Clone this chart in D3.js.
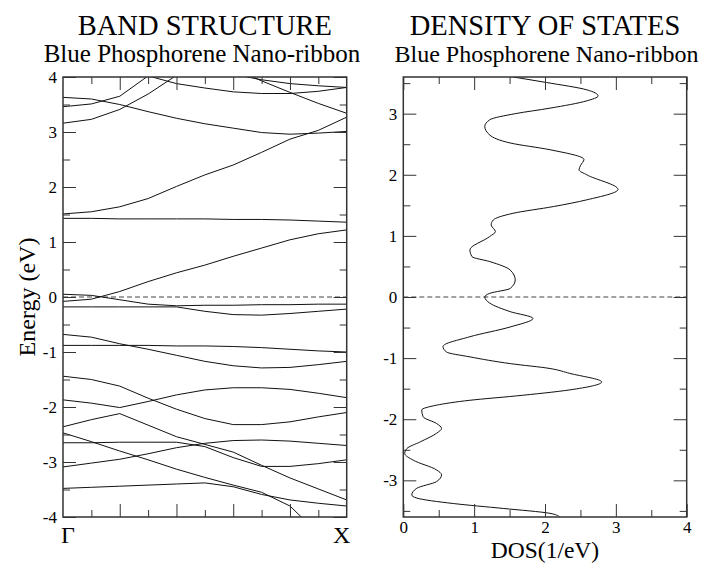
<!DOCTYPE html>
<html>
<head>
<meta charset="utf-8">
<script src="https://cdn.jsdelivr.net/npm/d3@7"></script>
<style>
    body { margin: 0; background: #fff; }
</style>
</head>
<body>
<script>

    // k-path points from Gamma (0) to X (1)
    const kPoints = [0, 0.1, 0.2, 0.3, 0.4, 0.5, 0.6, 0.7, 0.8, 0.9, 1.0];

    // band energies (eV) at each k point, null = off the chart
    const band01 = [1.43, 1.43, 1.42, 1.42, 1.42, 1.42, 1.41, 1.41, 1.40, 1.38, 1.36];
    const band02 = [1.51, 1.55, 1.64, 1.79, 2.01, 2.22, 2.40, 2.63, 2.87, 3.03, 3.27];
    const band03 = [3.63, 3.60, 3.50, 3.37, 3.25, 3.15, 3.07, 2.99, 2.96, 2.98, 3.01];
    const band04 = [3.16, 3.23, 3.41, 3.69, 4.03, null, 4.15, 3.93, 3.72, 3.52, 3.34];
    const band05 = [3.46, 3.51, 3.65, 4.02, 3.88, 3.80, 3.73, 3.70, 3.70, 3.74, 3.81];
    const band06 = [null, null, null, null, null, null, 4.05, 3.95, 3.88, 3.84, 3.81];
    const band07 = [-0.08, -0.04, 0.10, 0.28, 0.44, 0.58, 0.74, 0.89, 1.04, 1.15, 1.22];
    const band08 = [0.05, 0.03, -0.05, -0.13, -0.16, -0.15, -0.15, -0.14, -0.14, -0.13, -0.13];
    const band09 = [-0.18, -0.18, -0.18, -0.18, -0.18, -0.26, -0.32, -0.33, -0.30, -0.26, -0.22];
    const band10 = [-0.68, -0.73, -0.85, -0.95, -1.06, -1.17, -1.25, -1.29, -1.28, -1.23, -1.17];
    const band11 = [-0.88, -0.88, -0.88, -0.88, -0.89, -0.89, -0.90, -0.92, -0.95, -0.98, -1.00];
    const band12 = [-1.44, -1.50, -1.62, -1.84, -2.04, -2.21, -2.32, -2.32, -2.27, -2.18, -2.10];
    const band13 = [-1.87, -1.93, -2.01, -1.90, -1.78, -1.69, -1.65, -1.65, -1.68, -1.75, -1.83];
    const band14 = [-2.36, -2.23, -2.12, -2.33, -2.54, -2.68, -2.82, -3.06, -3.29, -3.49, -3.69];
    const band15 = [-3.09, -3.02, -2.95, -2.85, -2.74, -2.66, -2.61, -2.60, -2.62, -2.66, -2.70];
    const band16 = [-2.65, -2.65, -2.64, -2.64, -2.64, -2.72, -2.92, -3.08, -3.08, -3.03, -2.96];
    const band17 = [-2.47, -2.63, -2.80, -2.96, -3.13, -3.28, -3.42, -3.55, -3.80, -4.30, null];
    const band18 = [-3.48, -3.46, -3.44, -3.42, -3.40, -3.38, -3.45, -3.59, -3.69, -3.75, -3.80];

    const bands = [band01, band02, band03, band04, band05, band06, band07, band08, band09,
        band10, band11, band12, band13, band14, band15, band16, band17, band18];

    // density of states: energy (eV) and DOS (1/eV)
    const dosEnergy = [3.60, 3.51, 3.39, 3.29, 3.21, 3.09, 3.00, 2.90, 2.79, 2.65, 2.52, 2.41,
        2.25, 2.15, 2.08, 2.00, 1.76, 1.59, 1.48, 1.37, 1.26, 1.18, 1.07, 0.99, 0.77, 0.66,
        0.58, 0.44, 0.28, 0.14, 0.06, 0.00, -0.10, -0.24, -0.35, -0.49, -0.65, -0.81, -0.90,
        -0.98, -1.09, -1.17, -1.25, -1.39, -1.52, -1.62, -1.69, -1.77, -1.85, -1.96, -2.07,
        -2.15, -2.23, -2.37, -2.48, -2.56, -2.67, -2.83, -2.91, -3.02, -3.13, -3.24, -3.29,
        -3.38, -3.46, -3.54, -3.60];
    const dosValue = [1.55, 2.02, 2.59, 2.75, 2.59, 2.07, 1.58, 1.22, 1.15, 1.22, 1.51, 2.07,
        2.55, 2.50, 2.48, 2.59, 3.03, 2.59, 2.12, 1.55, 1.27, 1.24, 1.30, 1.22, 0.94, 0.97,
        1.22, 1.51, 1.58, 1.51, 1.22, 1.15, 1.22, 1.51, 1.83, 1.51, 0.94, 0.56, 0.61,
        0.94, 1.51, 2.07, 2.35, 2.80, 2.35, 1.58, 0.94, 0.47, 0.26, 0.28, 0.47,
        0.54, 0.47, 0.24, 0.05, 0.02, 0.14, 0.47, 0.54, 0.47, 0.19, 0.12, 0.19,
        0.71, 1.41, 2.07, 2.21];

    // tick values
    const bandEnergyMajor = [-4, -3, -2, -1, 0, 1, 2, 3, 4];
    const bandEnergyMinor = [-3.5, -2.5, -1.5, -0.5, 0.5, 1.5, 2.5, 3.5];
    const kMajor = [0.2, 0.4, 0.6, 0.8];
    const kMinor = [0.1, 0.3, 0.5, 0.7, 0.9];
    const dosMajor = [0, 1, 2, 3, 4];
    const dosMinor = [0.5, 1.5, 2.5, 3.5];
    const dosEnergyMajor = [-3, -2, -1, 0, 1, 2, 3];
    const dosEnergyMinor = [-3.5, -2.5, -1.5, -0.5, 0.5, 1.5, 2.5, 3.5];
    const kLabels = ["\u0393", "X"];

    const serif = "'Liberation Serif', 'Times New Roman', Times, serif";
    const width = 706, height = 563;
    const plotTop = 77, plotBottom = 517;

    const svg = d3.select("body").append("svg")
        .attr("width", width)
        .attr("height", height)
        .attr("font-family", serif);

    svg.append("rect").attr("width", width).attr("height", height).attr("fill", "#fff");

    const xBand = d3.scaleLinear().domain([0, 1]).range([63, 346.7]);
    const yBand = d3.scaleLinear().domain([-4, 4]).range([plotBottom, plotTop]);
    const xDos = d3.scaleLinear().domain([0, 4]).range([403.3, 686.7]);
    const yDos = d3.scaleLinear().domain([-3.6, 3.6]).range([plotBottom, plotTop]);

    const defs = svg.append("defs");
    defs.append("clipPath").attr("id", "clipBand").append("rect")
        .attr("x", xBand(0)).attr("y", plotTop)
        .attr("width", xBand(1) - xBand(0)).attr("height", plotBottom - plotTop);
    defs.append("clipPath").attr("id", "clipDos").append("rect")
        .attr("x", xDos(0)).attr("y", plotTop)
        .attr("width", xDos(4) - xDos(0)).attr("height", plotBottom - plotTop);

    // one set of inward ticks on one side of a frame
    function sideTicks(makeAxis, scale, tx, ty, values, size, labels, pad) {
        const g = svg.append("g").attr("transform", "translate(" + tx + "," + ty + ")")
            .call(makeAxis(scale).tickValues(values).tickSizeInner(-size).tickSizeOuter(0)
                .tickPadding(pad || 6).tickFormat(labels ? (d => String(d)) : ""));
        g.attr("font-family", serif).attr("font-size", 17);
        g.select(".domain").remove();
        g.selectAll("line").attr("stroke", "#333");
        g.selectAll("text").attr("fill", "#000");
        return g;
    }

    function drawTicks(x, y, xMaj, xMin, yMaj, yMin, xLabels) {
        const x0 = x.range()[0], x1 = x.range()[1];
        sideTicks(d3.axisLeft, y, x0, 0, yMaj, 13, true, 6);
        sideTicks(d3.axisLeft, y, x0, 0, yMin, 7, false);
        sideTicks(d3.axisRight, y, x1, 0, yMaj, 13, false);
        sideTicks(d3.axisRight, y, x1, 0, yMin, 7, false);
        sideTicks(d3.axisTop, x, 0, plotTop, xMaj, 13, false);
        sideTicks(d3.axisTop, x, 0, plotTop, xMin, 7, false);
        sideTicks(d3.axisBottom, x, 0, plotBottom, xMaj, 13, xLabels, 4);
        sideTicks(d3.axisBottom, x, 0, plotBottom, xMin, 7, false);
    }

    function addText(x, y, size, str) {
        return svg.append("text")
            .attr("x", x).attr("y", y)
            .attr("text-anchor", "middle")
            .attr("font-family", serif)
            .attr("font-size", size)
            .attr("fill", "#000")
            .text(str);
    }

    // ---------- band structure ----------
    const bandLine = d3.line()
        .defined(d => d[1] !== null)
        .x(d => xBand(d[0]))
        .y(d => yBand(d[1]));

    svg.append("line")
        .attr("x1", xBand(0)).attr("x2", xBand(1))
        .attr("y1", yBand(0)).attr("y2", yBand(0))
        .attr("stroke", "#444").attr("stroke-width", 1)
        .attr("stroke-dasharray", "5,3");

    svg.append("g").attr("clip-path", "url(#clipBand)")
        .selectAll("path")
        .data(bands)
        .enter()
        .append("path")
        .attr("d", function (b) {
            return bandLine(b.map(function (e, i) { return [kPoints[i], e]; }));
        })
        .attr("fill", "none")
        .attr("stroke", "#111")
        .attr("stroke-width", 1);

    drawTicks(xBand, yBand, kMajor, kMinor, bandEnergyMajor, bandEnergyMinor, false);

    svg.append("rect")
        .attr("x", xBand(0)).attr("y", plotTop)
        .attr("width", xBand(1) - xBand(0)).attr("height", plotBottom - plotTop)
        .attr("fill", "none").attr("stroke", "#333").attr("stroke-width", 1.5);

    kLabels.forEach(function (lab, i) {
        addText(xBand(i) + (i === 0 ? 5 : -5), 543, 24, lab);
    });

    addText(0, 0, 24, "Energy (eV)")
        .attr("transform", "translate(35," + yBand(0) + ") rotate(-90)");

    addText((xBand(0) + xBand(1)) / 2, 35, 28.5, "BAND STRUCTURE");
    addText(202, 62, 25, "Blue Phosphorene Nano-ribbon");

    // ---------- density of states ----------
    svg.append("line")
        .attr("x1", xDos(0)).attr("x2", xDos(4))
        .attr("y1", yDos(0)).attr("y2", yDos(0))
        .attr("stroke", "#444").attr("stroke-width", 1)
        .attr("stroke-dasharray", "5,3");

    const dosLine = d3.line()
        .x(d => xDos(d[1]))
        .y(d => yDos(d[0]))
        .curve(d3.curveMonotoneY);

    svg.append("g").attr("clip-path", "url(#clipDos)")
        .append("path")
        .datum(dosEnergy.map((e, i) => [e, dosValue[i]]))
        .attr("d", dosLine)
        .attr("fill", "none")
        .attr("stroke", "#111")
        .attr("stroke-width", 1);

    drawTicks(xDos, yDos, dosMajor, dosMinor, dosEnergyMajor, dosEnergyMinor, true);

    svg.append("rect")
        .attr("x", xDos(0)).attr("y", plotTop)
        .attr("width", xDos(4) - xDos(0)).attr("height", plotBottom - plotTop)
        .attr("fill", "none").attr("stroke", "#333").attr("stroke-width", 1.5);

    addText((xDos(0) + xDos(4)) / 2, 558, 23.5, "DOS(1/eV)");
    addText((xDos(0) + xDos(4)) / 2, 35, 28.5, "DENSITY OF STATES");
    addText(546.5, 62, 24, "Blue Phosphorene Nano-ribbon");

</script>
</body>
</html>
